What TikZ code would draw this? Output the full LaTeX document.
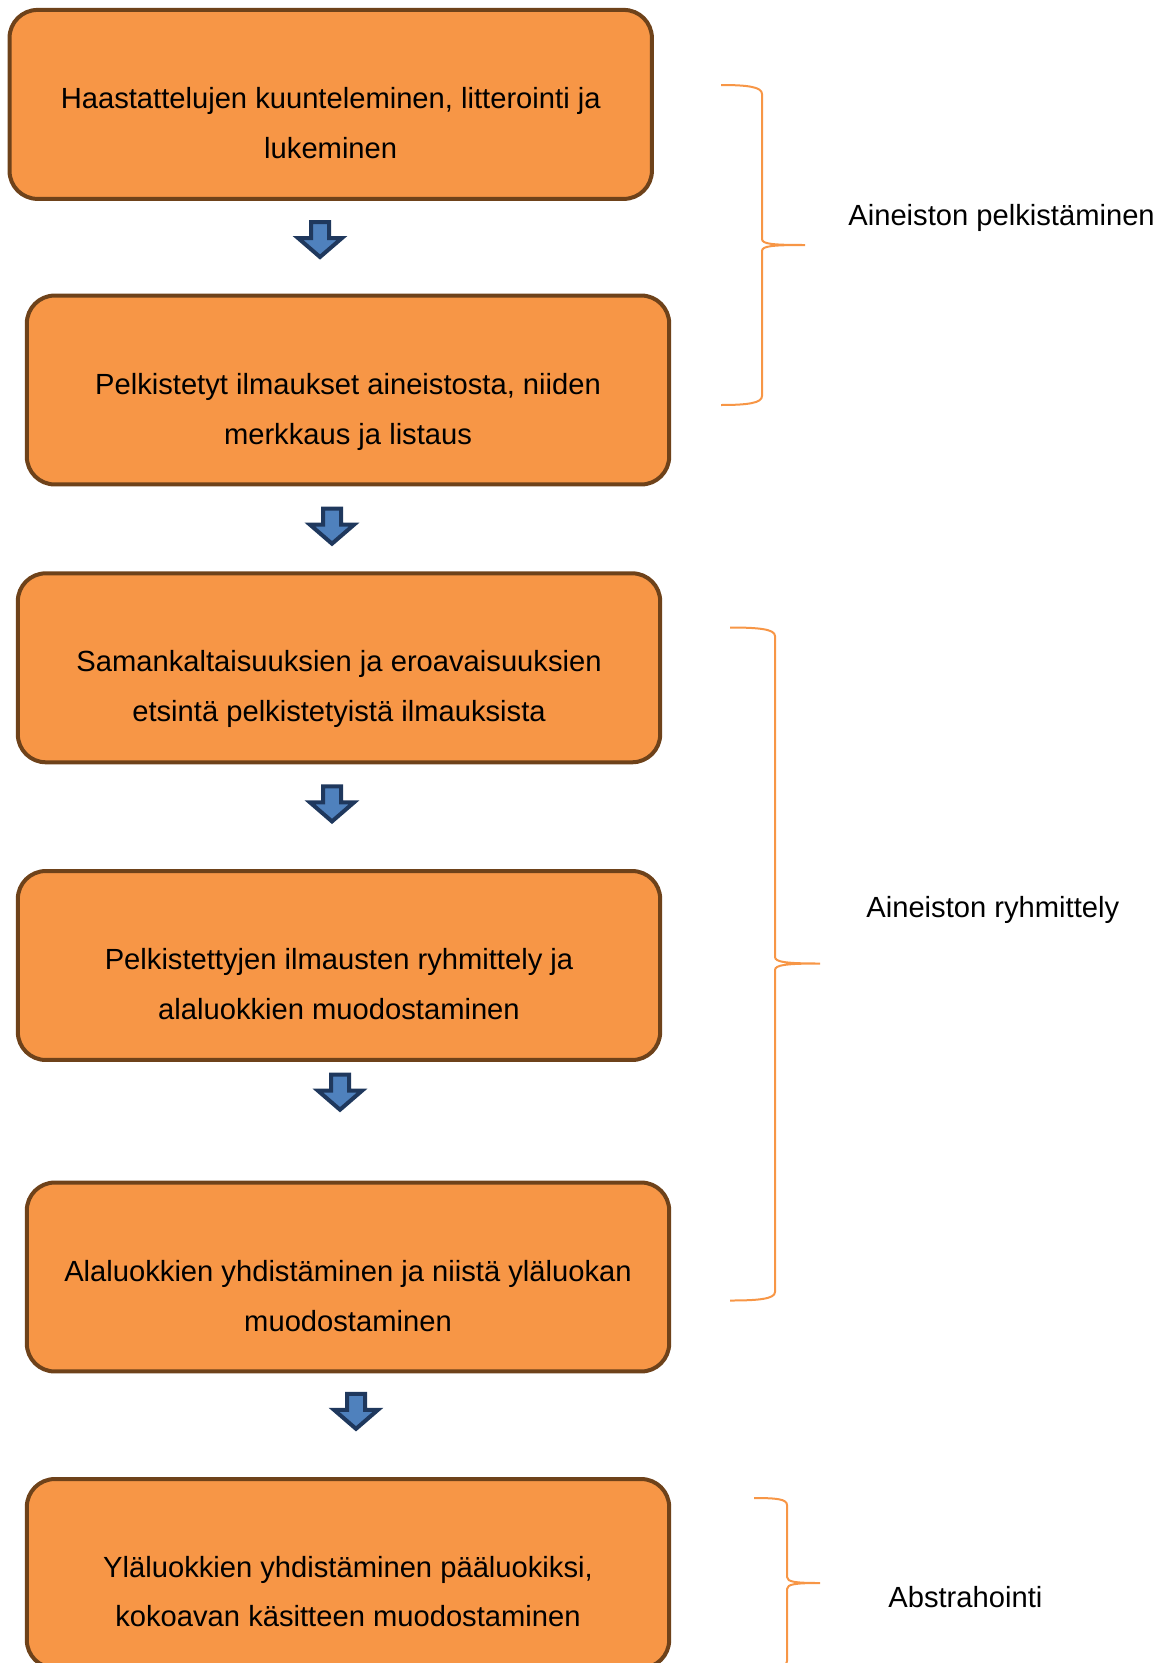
\documentclass[tikz,border=0pt]{standalone}
\usepackage{fontspec}
\setmainfont{Liberation Sans}
\usetikzlibrary{positioning}
\definecolor{boxfill}{HTML}{F79646}
\definecolor{boxline}{RGB}{110,66,26}
\definecolor{arrfill}{HTML}{4F81BD}
\definecolor{arrline}{RGB}{31,56,93}
\tikzset{
	box/.style={draw=boxline,fill=boxfill,line width=0.08cm,rounded corners=0.56cm,
		minimum width=12.85cm,minimum height=3.78cm,inner sep=0pt},
	txt/.style={align=center,inner sep=0pt,font=\fontsize{16.6}{28.35}\selectfont},
	sidetxt/.style={anchor=west,inner sep=0pt,font=\fontsize{16.6}{28.35}\selectfont},
	brace/.style={draw=boxfill,line width=0.04cm},
	downarr/.pic={
		\draw[fill=arrfill,draw=arrline,line width=0.08cm,line join=miter]
		(-9,2)--(9,2)--(9,18)--(22,18)--(0,37)--(-22,18)--(-9,18)--cycle;
	}
}
\begin{document}
\begin{tikzpicture}[x=0.02cm,y=-0.02cm]
		\useasboundingbox (0,0) rectangle (1164,1663);

		\draw (330.7,104.4) node (b1)[box]{};
		\draw (b1) ++(0,19) node (t1)[txt]{Haastattelujen kuunteleminen, litterointi ja\\lukeminen};
		\draw (348,390) node (b2)[box]{};
		\draw (b2) ++(0,22) node (t2)[txt]{Pelkistetyt ilmaukset aineistosta, niiden\\merkkaus ja listaus};
		\draw (339,667.8) node (b3)[box]{};
		\draw (b3) ++(0,21) node (t3)[txt]{Samankaltaisuuksien ja eroavaisuuksien\\etsintä pelkistetyistä ilmauksista};
		\draw (339,965.5) node (b4)[box]{};
		\draw (b4) ++(0,18.5) node (t4)[txt]{Pelkistettyjen ilmausten ryhmittely ja\\alaluokkien muodostaminen};
		\draw (348,1277) node (b5)[box]{};
		\draw (b5) ++(0,19) node (t5)[txt]{Alaluokkien yhdistäminen ja niistä yläluokan\\muodostaminen};
		\draw (348,1573.5) node (b6)[box]{};
		\draw (b6) ++(0,18) node (t6)[txt]{Yläluokkien yhdistäminen pääluokiksi,\\kokoavan käsitteen muodostaminen};

		\path (320,220) pic {downarr};
		\path (332,506.7) pic {downarr};
		\path (332,784.4) pic {downarr};
		\path (340,1072.7) pic {downarr};
		\path (356,1391.8) pic {downarr};

		\draw[brace] (721,85) .. controls (748,85) and (762,87) .. (762,94) -- (762,239)
			.. controls (762,244) and (772,245) .. (805,245)
			.. controls (772,245) and (762,246) .. (762,251) -- (762,396)
			.. controls (762,403) and (748,405) .. (721,405);
		\draw (848,218) node (s1)[sidetxt]{Aineiston pelkistäminen};

		\draw[brace] (730,627.5) .. controls (758,627.5) and (775,629) .. (775,636) -- (775,957)
			.. controls (775,962) and (786,963.5) .. (820,963.5)
			.. controls (786,963.5) and (775,965) .. (775,970) -- (775,1292)
			.. controls (775,1299) and (758,1300.5) .. (730,1300.5);
		\draw (866,910) node (s2)[sidetxt]{Aineiston ryhmittely};

		\draw[brace] (754,1498) .. controls (776,1498) and (787,1499) .. (787,1505) -- (787,1577)
			.. controls (787,1582) and (796,1583) .. (820,1583)
			.. controls (796,1583) and (787,1584) .. (787,1589) -- (787,1661)
			.. controls (787,1667) and (776,1668) .. (754,1668);
		\draw (888,1597) node (s3)[sidetxt]{Abstrahointi};
	\end{tikzpicture}
\end{document}
